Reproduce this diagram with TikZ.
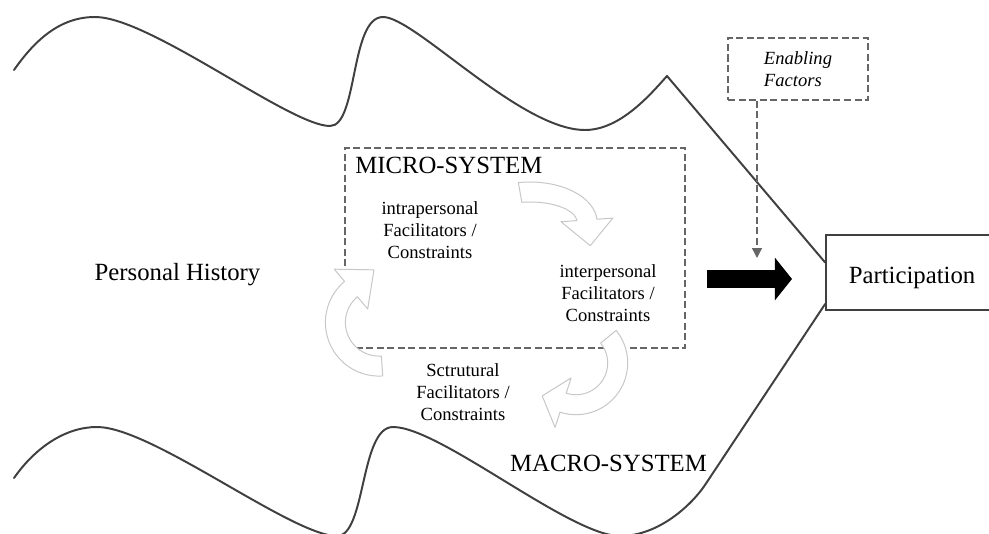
\documentclass[tikz,border=0pt]{standalone}
\usepackage{fontspec}
\setmainfont{Liberation Serif}
\usetikzlibrary{arrows.meta,calc}

\begin{document}
\begin{tikzpicture}[x=0.025cm, y=-0.025cm,
wave/.style={draw=black!75, line width=1.4pt, line cap=round, line join=round},
dashbox/.style={draw=black!60, line width=1pt, dash pattern=on 5pt off 2.5pt},
dasharrow/.style={draw=black!60, line width=1pt, dash pattern=on 5pt off 2.5pt, -{Triangle[width=7pt,length=7pt]}},
bigarrow/.style={draw=black, line width=0.45cm, -{Triangle[width=1.05cm,length=0.43cm]}},
bigtext/.style={font=\fontsize{17.6}{21}\selectfont, inner sep=0pt},
smalltext/.style={font=\fontsize{13.2}{15.6}\selectfont, align=center, inner sep=0pt},
looparrow/.style={draw=black!22, line width=0.7pt, fill=white, line join=round},
]
    \clip (0,0) rectangle (989,534);

    % boxes
    \node[dashbox, minimum width=8.5cm, minimum height=5cm] (micro) at (515,248) {};
    \node[dashbox, minimum width=3.5cm, minimum height=1.55cm, align=left,
          font=\fontsize{13.2}{15.6}\selectfont\itshape] (enab) at (798,69) {Enabling\\Factors};
    \node[draw=black!75, line width=1.1pt, minimum width=4.3cm, minimum height=1.875cm,
          font=\fontsize{17.6}{21}\selectfont, text height=15pt, text depth=0pt] (part) at (912,272.5) {Participation};

    % outer walls
    \draw[wave] (14,70) .. controls (35,40) and (60,17) .. (95,17)
        .. controls (150,17) and (290,126) .. (330,126)
        .. controls (358,126) and (350,17) .. (383,17)
        .. controls (415,17) and (520,130) .. (585,130)
        .. controls (620,130) and (650,95) .. (667,76)
        -- ($(part.north west)!0.37!(part.south west)$);
    \draw[wave] (14,478) .. controls (35,448) and (65,427) .. (97,427)
        .. controls (152,427) and (292,536) .. (337,536)
        .. controls (366,536) and (360,427) .. (393,427)
        .. controls (440,427) and (570,536) .. (620,536)
        .. controls (660,536) and (693,503) .. (705,485)
        -- ($(part.north west)!0.91!(part.south west)$);

    % arrows to participation
    \coordinate (entip) at (757,258);
    \draw[dasharrow] (enab.south -| entip) -- (entip);
    \coordinate (pushs) at (707,279);
    \coordinate (pushe) at (792,279);
    \draw[bigarrow] (pushs) -- (pushe);

    % cycle of facilitators
    \foreach \cx/\cy/\rx/\ry/\sa/\ea/\hl in {530/222/57/30/-100/-4/26,
                                             379/322.5/43.6/43.6/86/230/30,
                                             576/363/41.7/41.7/-39/108/22}{
        \pgfmathsetmacro\ox{\rx+10}\pgfmathsetmacro\oy{\ry+10}
        \pgfmathsetmacro\ix{\rx-10}\pgfmathsetmacro\iy{\ry-10}
        \pgfmathsetmacro\hx{\rx+26}\pgfmathsetmacro\hy{\ry+26}
        \pgfmathsetmacro\jx{\rx-26}\pgfmathsetmacro\jy{\ry-26}
        \pgfmathsetmacro\tn{sqrt((\rx*sin(\ea))^2+(\ry*cos(\ea))^2)}
        \pgfmathsetmacro\tx{\rx*cos(\ea)-\hl*\rx*sin(\ea)/\tn}
        \pgfmathsetmacro\ty{\ry*sin(\ea)+\hl*\ry*cos(\ea)/\tn}
        \draw[looparrow, shift={(\cx,\cy)}]
            (\sa:{\ox} and {\oy}) arc[start angle=\sa, end angle=\ea, x radius=\ox, y radius=\oy]
            -- (\ea:{\hx} and {\hy}) -- (\tx,\ty) -- (\ea:{\jx} and {\jy}) -- (\ea:{\ix} and {\iy})
            arc[start angle=\ea, end angle=\sa, x radius=\ix, y radius=\iy] -- cycle;
    }

    % labels
    \node[bigtext, anchor=base] (hist) at (177.5,280) {Personal History};
    \node[bigtext, anchor=base west] (microlbl) at (355,173) {MICRO-SYSTEM};
    \node[bigtext, anchor=base] (macrolbl) at (608.5,471) {MACRO-SYSTEM};
    \node[smalltext] (intra) at (430,230) {intrapersonal\\Facilitators /\\Constraints};
    \node[smalltext] (inter) at (608,293) {interpersonal\\Facilitators /\\Constraints};
    \node[smalltext] (struc) at (463,392) {Sctrutural\\Facilitators /\\Constraints};
\end{tikzpicture}
\end{document}
